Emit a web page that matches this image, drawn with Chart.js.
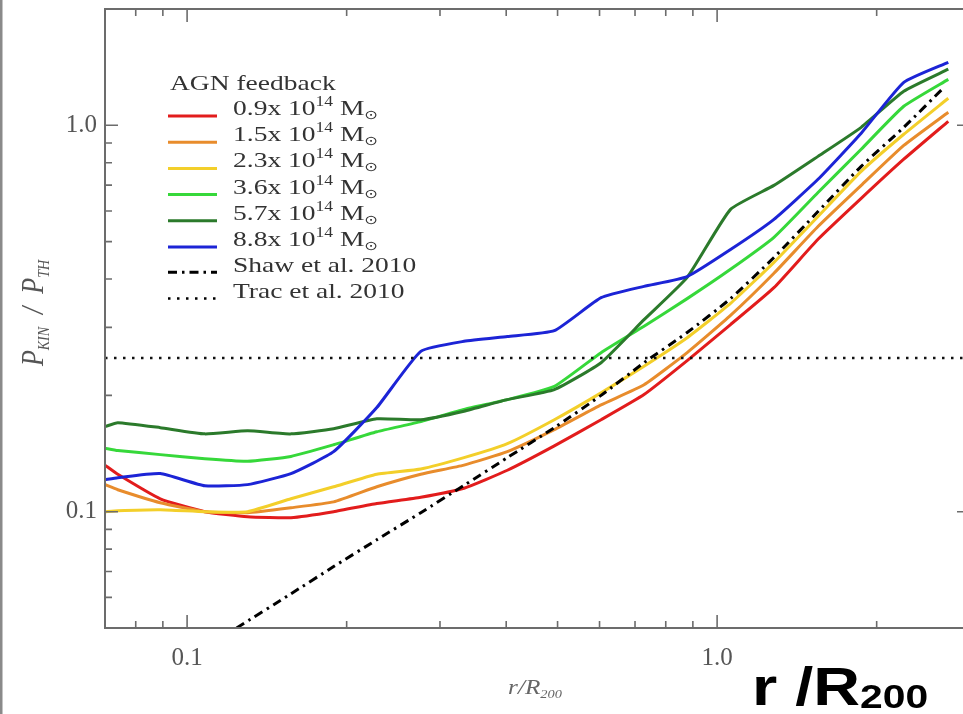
<!DOCTYPE html>
<html>
<head>
<meta charset="utf-8">
<script src="https://cdn.jsdelivr.net/npm/chart.js@4.4.1/dist/chart.umd.min.js"></script>
<style>
  html, body { margin:0; padding:0; background:#fff; overflow:hidden; width:963px; height:714px; }
  #wrap { position:absolute; left:0; top:0; width:980px; height:714px; }
</style>
</head>
<body>
<div id="wrap"><canvas id="c"></canvas></div>
<script>
// ---- data ----
const rValues = [0.070, 0.074, 0.089, 0.108, 0.130, 0.157, 0.189, 0.228, 0.276, 0.333, 0.402, 0.493, 0.604, 0.728, 0.878, 1.06, 1.28, 1.55, 1.87, 2.25, 2.73];
const m09 = [0.132, 0.125, 0.108, 0.100, 0.097, 0.0965, 0.100, 0.105, 0.109, 0.115, 0.128, 0.148, 0.173, 0.201, 0.246, 0.305, 0.380, 0.507, 0.647, 0.817, 1.024];
const m15 = [0.1175, 0.114, 0.1055, 0.100, 0.0994, 0.1024, 0.106, 0.116, 0.125, 0.132, 0.143, 0.163, 0.189, 0.213, 0.258, 0.322, 0.414, 0.547, 0.699, 0.887, 1.081];
const m23 = [0.100, 0.1006, 0.1012, 0.100, 0.100, 0.108, 0.116, 0.125, 0.129, 0.138, 0.150, 0.173, 0.203, 0.238, 0.282, 0.346, 0.442, 0.581, 0.760, 0.948, 1.175];
const m36 = [0.146, 0.144, 0.1405, 0.137, 0.135, 0.139, 0.149, 0.161, 0.171, 0.184, 0.195, 0.211, 0.258, 0.302, 0.356, 0.424, 0.513, 0.670, 0.867, 1.120, 1.315];
const m57 = [0.166, 0.170, 0.165, 0.159, 0.162, 0.159, 0.164, 0.174, 0.173, 0.182, 0.195, 0.207, 0.243, 0.314, 0.404, 0.606, 0.699, 0.831, 0.988, 1.225, 1.397];
const m88 = [0.121, 0.1225, 0.1255, 0.1167, 0.1175, 0.1255, 0.143, 0.186, 0.260, 0.276, 0.284, 0.294, 0.358, 0.383, 0.406, 0.477, 0.571, 0.725, 0.954, 1.292, 1.456];
const shawR = [0.124, 0.157, 0.189, 0.228, 0.276, 0.333, 0.402, 0.493, 0.604, 0.728, 0.878, 1.06, 1.28, 1.55, 1.87, 2.25, 2.68];
const shawP = [0.050, 0.0613, 0.0721, 0.0846, 0.0994, 0.117, 0.138, 0.165, 0.200, 0.243, 0.291, 0.356, 0.455, 0.598, 0.783, 0.988, 1.254];
const tracR = [0.07, 3.0];
const tracP = [0.25, 0.25];
const massLabels = ['0.9', '1.5', '2.3', '3.6', '5.7', '8.8'];
const legendTitle = 'AGN feedback';
const shawLabel = 'Shaw et al. 2010';
const tracLabel = 'Trac et al. 2010';
const xMajorTicks = [0.1, 1.0];
const xMinorTicks = [0.07, 0.08, 0.09, 0.2, 0.3, 0.4, 0.5, 0.6, 0.7, 0.8, 0.9, 2.0, 3.0];
const yMajorTicks = [0.1, 1.0];
const yMinorTicks = [0.05, 0.06, 0.07, 0.08, 0.09, 0.2, 0.3, 0.4, 0.5, 0.6, 0.7, 0.8, 0.9, 2.0];
const tickLabels = { '0.1': '0.1', '1': '1.0' };

// ---- styles ----
const colors = ['#e21c1c', '#e88c2c', '#f3cf2a', '#36d83a', '#2b7a2b', '#1c24d6'];
const SERIF = "'Liberation Serif', 'Times New Roman', serif";

function pts(xs, ys) { return xs.map((x, i) => ({ x: x, y: ys[i] })); }
const massSeries = [m09, m15, m23, m36, m57, m88];

const datasets = [];
datasets.push({ label: shawLabel, data: pts(shawR, shawP), borderColor: '#000', borderWidth: 3,
  borderDash: [9, 5, 2.5, 5], pointRadius: 0, order: 0, tension: 0.2 });
datasets.push({ label: tracLabel, data: pts(tracR, tracP), borderColor: '#111', borderWidth: 2.5,
  borderDash: [2.5, 6.5], pointRadius: 0, order: 1 });
massSeries.forEach((s, i) => {
  datasets.push({ label: massLabels[i] + 'x 10^14 M⊙', data: pts(rValues, s), borderColor: colors[i],
    borderWidth: 3, pointRadius: 0, tension: 0.15, order: 2 + (5 - i) });
});

function isIn(list, v) { return list.some(t => Math.abs(t - v) / t < 1e-6); }

function rich(ctx, x, y, parts, align) {
  let total = 0;
  parts.forEach(p => { ctx.font = p.font; p.w = ctx.measureText(p.t).width; total += p.w; });
  let cx = align === 'center' ? x - total / 2 : x;
  parts.forEach(p => { ctx.font = p.font; ctx.fillText(p.t, cx, y + (p.dy || 0)); cx += p.w; });
}
// draw text stretched horizontally by sx, anchored at (x, y)
function stretched(ctx, x, y, sx, fn) {
  ctx.save(); ctx.translate(x, y); ctx.scale(sx, 1); fn(); ctx.restore();
}

const deco = {
  id: 'deco',
  afterDraw(chart) {
    const ctx = chart.ctx, a = chart.chartArea, xs = chart.scales.x, ys = chart.scales.y;
    ctx.save();
    // page edge line
    ctx.fillStyle = '#8a8a8a';
    ctx.fillRect(0, 0, 2.5, chart.height);
    // frame
    ctx.strokeStyle = '#6c6c6c';
    ctx.lineWidth = 2;
    ctx.strokeRect(a.left, a.top, a.right - a.left, a.bottom - a.top);
    ctx.lineWidth = 1.6;
    ctx.beginPath();
    xMajorTicks.concat(xMinorTicks).forEach(v => {
      const p = xs.getPixelForValue(v), L = isIn(xMajorTicks, v) ? 13 : 7;
      ctx.moveTo(p, a.bottom); ctx.lineTo(p, a.bottom - L);
      ctx.moveTo(p, a.top); ctx.lineTo(p, a.top + L);
    });
    yMajorTicks.concat(yMinorTicks).forEach(v => {
      const p = ys.getPixelForValue(v), L = isIn(yMajorTicks, v) ? 13 : 7;
      ctx.moveTo(a.left, p); ctx.lineTo(a.left + L, p);
      ctx.moveTo(a.right, p); ctx.lineTo(a.right - L, p);
    });
    ctx.stroke();

    // legend
    ctx.textBaseline = 'alphabetic';
    const big = '22px ' + SERIF, small = '14px ' + SERIF;
    const SX = 1.25;
    ctx.fillStyle = '#333';
    stretched(ctx, 170, 90, SX, () => { ctx.font = big; ctx.fillText(legendTitle, 0, 0); });
    const lx0 = 168, lx1 = 217, tx = 233, base0 = 115, step = 26.2;
    massLabels.forEach((m, i) => {
      const y = base0 + step * i;
      ctx.strokeStyle = colors[i]; ctx.lineWidth = 3; ctx.setLineDash([]);
      ctx.beginPath(); ctx.moveTo(lx0, y + 1); ctx.lineTo(lx1, y + 1); ctx.stroke();
      ctx.fillStyle = '#333';
      stretched(ctx, tx, y, SX, () => rich(ctx, 0, 0, [
        { t: m + 'x 10', font: big },
        { t: '14', font: small, dy: -9 },
        { t: ' M', font: big },
        { t: '⊙', font: "13px 'DejaVu Sans'", dy: 4 }
      ]));
    });
    let y = base0 + step * 6;
    ctx.strokeStyle = '#000'; ctx.lineWidth = 3; ctx.setLineDash([9, 5, 2.5, 5]);
    ctx.beginPath(); ctx.moveTo(lx0, y); ctx.lineTo(lx1, y); ctx.stroke();
    stretched(ctx, tx, y, SX, () => { ctx.font = big; ctx.fillText(shawLabel, 0, 0); });
    y = base0 + step * 7;
    ctx.lineWidth = 2.5; ctx.setLineDash([2.5, 6.5]);
    ctx.beginPath(); ctx.moveTo(lx0, y); ctx.lineTo(lx1, y); ctx.stroke();
    ctx.setLineDash([]);
    stretched(ctx, tx, y, SX, () => { ctx.font = big; ctx.fillText(tracLabel, 0, 0); });

    // y title
    ctx.fillStyle = '#555';
    ctx.save();
    ctx.translate(43, 313);
    ctx.rotate(-Math.PI / 2);
    ctx.scale(1, 1.2);
    const it = 'italic 26px ' + SERIF, its = 'italic 14px ' + SERIF;
    rich(ctx, 0, 0, [
      { t: 'P', font: it }, { t: 'KIN', font: its, dy: 5 },
      { t: '  /  ', font: it },
      { t: 'P', font: it }, { t: 'TH', font: its, dy: 5 }
    ], 'center');
    ctx.restore();

    // x title
    ctx.fillStyle = '#666';
    stretched(ctx, 535, 694, 1.2, () => rich(ctx, 0, 0, [
      { t: 'r/R', font: 'italic 21px ' + SERIF },
      { t: '200', font: 'italic 12px ' + SERIF, dy: 4 }
    ], 'center'));

    // big annotation
    ctx.fillStyle = '#000';
    stretched(ctx, 752, 705, 1.2, () => rich(ctx, 0, 0, [
      { t: 'r /R', font: "bold 54px 'Liberation Sans', Arial, sans-serif" },
      { t: '200', font: "bold 34px 'Liberation Sans', Arial, sans-serif", dy: 3 }
    ]));
    ctx.restore();
  }
};

new Chart(document.getElementById('c'), {
  type: 'line',
  data: { datasets: datasets },
  options: {
    responsive: true, maintainAspectRatio: false, animation: false, devicePixelRatio: 1,
    layout: { padding: { left: 0, top: 9, right: 10, bottom: 0 } },
    plugins: { legend: { display: false }, tooltip: { enabled: false } },
    elements: { line: { borderCapStyle: 'butt', borderJoinStyle: 'round' } },
    scales: {
      x: {
        type: 'logarithmic', min: 0.07, max: 3.0,
        grid: { display: false, drawTicks: false }, border: { display: false },
        afterBuildTicks: s => { s.ticks = xMajorTicks.map(v => ({ value: v })); },
        afterFit: s => { s.height = 86; s.paddingLeft = 0; s.paddingRight = 0; },
        ticks: { autoSkip: false, maxRotation: 0, padding: 15, color: '#555',
          font: { family: SERIF, size: 25 },
          callback: v => tickLabels[String(Math.round(v * 1000) / 1000)] || '' }
      },
      y: {
        type: 'logarithmic', min: 0.05, max: 2.0,
        grid: { display: false, drawTicks: false }, border: { display: false },
        afterBuildTicks: s => { s.ticks = yMajorTicks.map(v => ({ value: v })); },
        afterFit: s => { s.width = 105; s.paddingTop = 0; s.paddingBottom = 0; },
        ticks: { autoSkip: false, padding: 8, color: '#555',
          font: { family: SERIF, size: 25 },
          callback: v => tickLabels[String(Math.round(v * 1000) / 1000)] || '' }
      }
    }
  },
  plugins: [deco]
});
</script>
</body>
</html>
